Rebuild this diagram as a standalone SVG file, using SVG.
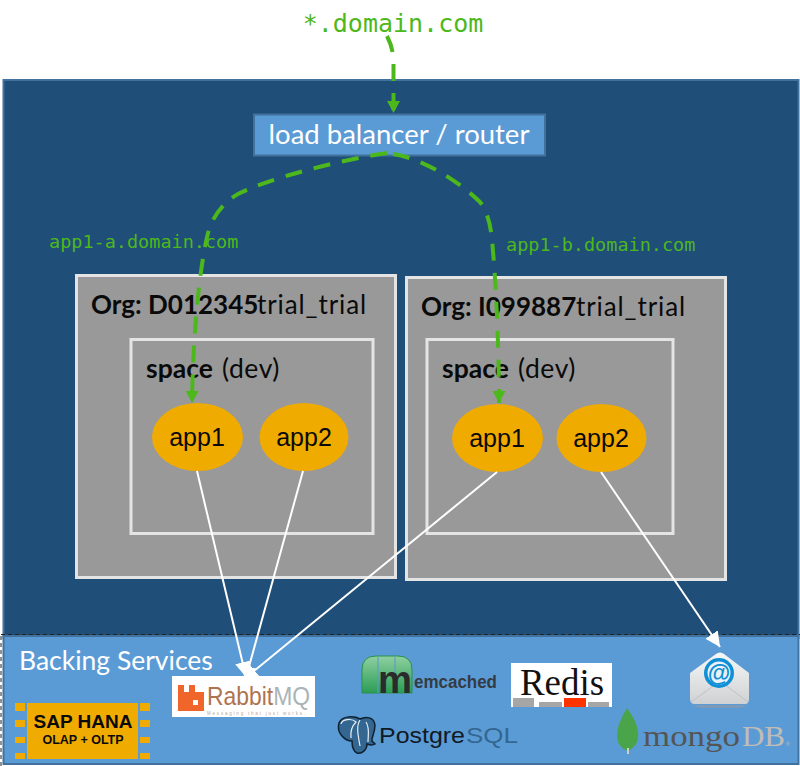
<svg xmlns="http://www.w3.org/2000/svg" width="800" height="766" viewBox="0 0 800 766">
<defs>
<style>
.cal{font-family:"Lato","Open Sans",sans-serif}
.mono{font-family:"DejaVu Sans Mono","Liberation Mono",monospace;fill:#4db81c}
.ar{font-family:"Liberation Sans",Arial,sans-serif}
.ser{font-family:"Liberation Serif","Times New Roman",serif}
.org{fill:#999;stroke:#e4e4e4;stroke-width:3}
.app{fill:#f0ab00}
.apptxt{font-family:"Liberation Sans",Arial,sans-serif;font-size:25px;fill:#0a0a0a;text-anchor:middle}
.green{fill:none;stroke:#4db81c;stroke-width:4;stroke-dasharray:17 12}
.white{fill:none;stroke:#fff;stroke-width:2}
.pin{fill:#f0ab00}
</style>
<marker id="ga" markerUnits="userSpaceOnUse" markerWidth="14" markerHeight="14" refX="12" refY="6.500" orient="auto"><path d="M0 0L12 6.500L0 13z" fill="#4db81c"/></marker>
<marker id="wa" markerUnits="userSpaceOnUse" markerWidth="18" markerHeight="16" refX="15" refY="7.500" orient="auto"><path d="M0 0L15 7.500L0 15z" fill="#fff"/></marker>
<linearGradient id="mg" x1="0" y1="0" x2="0" y2="1"><stop offset="0" stop-color="#8fd0a0"/><stop offset="1" stop-color="#2a9d55"/></linearGradient>
<linearGradient id="eg" x1="0" y1="0" x2="0" y2="1"><stop offset="0" stop-color="#f7f7f7"/><stop offset="1" stop-color="#cfd1d3"/></linearGradient>
</defs>
<rect width="800" height="766" fill="#fff"/>
<rect id="cloud" x="3.500" y="80" width="795" height="558" fill="#1f4e79" stroke="#41719c" stroke-width="2"/>
<g id="backing">
<rect x="3.500" y="636" width="795" height="128" fill="#5b9bd5" stroke="#41719c" stroke-width="2"/>
<path d="M1 634.500H800M1 636V766" fill="none" stroke="#222" stroke-width="1" stroke-dasharray="4 3"/>
<text x="19" y="670" class="cal" font-size="26.500" fill="#fff">Backing Services</text>
</g>
<g id="router">
<rect x="254" y="114.500" width="291" height="41" fill="#5b9bd5" stroke="#41719c" stroke-width="2"/>
<text x="399" y="144" class="cal" font-size="27.500" fill="#fff" text-anchor="middle">load balancer / router</text>
</g>
<text id="wild" x="393" y="32" class="mono" font-size="25" text-anchor="middle">*.domain.com</text>
<text id="la" x="49" y="248" class="mono" font-size="18.500">app1-a.domain.com</text>
<text id="lb" x="506" y="251" class="mono" font-size="18.500">app1-b.domain.com</text>
<g id="org1">
<rect class="org" x="76.500" y="275.500" width="319" height="302"/>
<text x="91" y="314" class="cal" font-size="26" fill="#0a0a0a"><tspan font-weight="700">Org: D012345</tspan><tspan x="257" letter-spacing=".9">trial_trial</tspan></text>
</g>
<g id="space1">
<rect class="org" x="131" y="339.500" width="242" height="194"/>
<text x="146" y="378" class="cal" font-size="26.500" fill="#0a0a0a"><tspan font-weight="700">space</tspan><tspan x="222" letter-spacing=".6">(dev)</tspan></text>
</g>
<g id="org2">
<rect class="org" x="406.500" y="277.500" width="319" height="302"/>
<text x="421" y="316" class="cal" font-size="26" fill="#0a0a0a"><tspan font-weight="700">Org: I099887</tspan><tspan x="576" letter-spacing=".9">trial_trial</tspan></text>
</g>
<g id="space2">
<rect class="org" x="427" y="339.500" width="246" height="194"/>
<text x="442" y="378" class="cal" font-size="26.500" fill="#0a0a0a"><tspan font-weight="700">space</tspan><tspan x="518" letter-spacing=".6">(dev)</tspan></text>
</g>
<g id="o1a1"><ellipse class="app" cx="197.500" cy="437" rx="45.500" ry="34"/><text class="apptxt" x="197" y="446">app1</text></g>
<g id="o1a2"><ellipse class="app" cx="304" cy="437" rx="44.500" ry="34"/><text class="apptxt" x="304" y="446">app2</text></g>
<g id="o2a1"><ellipse class="app" cx="497.500" cy="438" rx="45.500" ry="34"/><text class="apptxt" x="497" y="447">app1</text></g>
<g id="o2a2"><ellipse class="app" cx="601.500" cy="438" rx="45" ry="34"/><text class="apptxt" x="601" y="447">app2</text></g>
<g id="connectors">
<path class="green" d="M387 36C392 46 393 52 393.500 62V113" marker-end="url(#ga)" stroke-dasharray="15 13"/>
<path class="green" d="M387 153C340 160 270 178 238 194C222 203 212 218 208 233C200 265 193 330 192 403" marker-end="url(#ga)"/>
<path class="green" d="M393 154C420 158 455 178 480 202C488 212 491 228 492 240C496 280 499 350 499 403" marker-end="url(#ga)"/>
<path class="white" d="M197 471L246 677" marker-end="url(#wa)"/>
<path class="white" d="M303 471L245 681" marker-end="url(#wa)"/>
<path class="white" d="M497 472L243 680" marker-end="url(#wa)"/>
<path class="white" d="M601 472L720 647" marker-end="url(#wa)"/>
</g>
<g id="sap">
<rect x="27" y="703" width="111" height="56" fill="#f0ab00"/>
<rect class="pin" x="15" y="703" width="10" height="8"/><rect class="pin" x="15" y="720" width="10" height="7"/><rect class="pin" x="15" y="737" width="10" height="6"/><rect class="pin" x="15" y="753" width="10" height="6"/>
<rect class="pin" x="140" y="703" width="10" height="8"/><rect class="pin" x="140" y="720" width="10" height="7"/><rect class="pin" x="140" y="737" width="10" height="6"/><rect class="pin" x="140" y="753" width="10" height="6"/>
<text x="83" y="728" class="ar" font-size="19" font-weight="700" fill="#0a0a0a" text-anchor="middle">SAP HANA</text>
<text x="83" y="744" class="ar" font-size="12.500" font-weight="700" fill="#0a0a0a" text-anchor="middle">OLAP + OLTP</text>
</g>
<g id="rabbit">
<rect x="172" y="676" width="143" height="41" fill="#fff"/>
<path d="M178 685H184V692H189V685H195V692H204V711H178z" fill="#f0662a"/><rect x="193" y="700" width="5" height="5" fill="#fff"/>
<text x="207" y="705" class="ar" font-size="26" fill="#b0734f" textLength="103" lengthAdjust="spacingAndGlyphs">Rabbit<tspan fill="#a9b4b8">MQ</tspan></text>
<text x="207" y="714.500" class="ar" font-size="4.500" fill="#b8a89c" textLength="98">Messaging that just works.</text>
</g>
<g id="memcached">
<path d="M362 693V670Q362 656 376 656H398Q412 656 412 670V693z" fill="url(#mg)" stroke="#2a8f4e" stroke-width="1"/>
<path d="M378 657V693M395 657V693" stroke="#5b9bd5" stroke-width="1.500" opacity=".7"/>
<text x="378" y="693" class="ar" font-size="38" font-weight="700" fill="#2b2b2b" textLength="34" lengthAdjust="spacingAndGlyphs">m</text>
<text x="414" y="688" class="ar" font-size="18" font-weight="700" fill="#343b44" textLength="83" lengthAdjust="spacingAndGlyphs">emcached</text>
</g>
<g id="redis">
<rect x="511" y="663" width="101" height="44" fill="#fff"/>
<text x="520" y="695" class="ser" font-size="38" fill="#111" textLength="84" lengthAdjust="spacingAndGlyphs">Redis</text>
<rect x="513" y="698" width="21" height="9" fill="#a6a6a6"/><rect x="539" y="702" width="23" height="5" fill="#a6a6a6"/><rect x="564" y="698" width="22" height="9" fill="#ff3300"/><rect x="588" y="702" width="21" height="5" fill="#a6a6a6"/>
</g>
<g id="postgres">
<path d="M339 723C342 715 355 716 360 719C366 716 374 717 375 725C375 733 371 738 372 741L375 744C372 746 370 745 367 744C367 750 362 754 357 753C353 751 352 746 352 741C345 741 336 733 339 723z" fill="#336791" stroke="#10202e" stroke-width="1.500"/>
<path d="M341 724C342 719 352 718 356 722C352 726 350 730 351 738M360 720C356 726 358 735 360 746M366 722C370 728 368 735 368 742" fill="none" stroke="#e6edf3" stroke-width="1.200"/>
<text x="379" y="743" class="ar" font-size="22" fill="#111a24" textLength="86" lengthAdjust="spacingAndGlyphs">Postgre</text>
<text x="466" y="743" class="ar" font-size="22" fill="#336791" textLength="52" lengthAdjust="spacingAndGlyphs">SQL</text>
</g>
<g id="mail">
<path d="M690 673L716 654Q720 651 724 654L749 673V699Q749 704 745 704H695Q690 704 690 699z" fill="url(#eg)"/>
<path d="M691 702L716 684H724L748 702" fill="none" stroke="#bfc3c7" stroke-width="1"/>
<path d="M692 705H748L740 708H700z" fill="#7d9ab8"/>
<circle cx="719" cy="673" r="15" fill="#0f8fd6"/><circle cx="719" cy="673" r="11.500" fill="#e8f2f8"/>
<text x="719" y="681" class="ar" font-size="23" font-weight="700" fill="#0f8fd6" text-anchor="middle">@</text>
</g>
<g id="mongo">
<path d="M627 708C636 720 639 730 638 738C637 745 632 749 628 751C622 749 617 744 617 736C617 727 621 718 627 708z" fill="#4aa54a"/>
<rect x="627" y="748" width="2" height="6" fill="#c9d2c4"/>
<text x="643" y="746" class="ser" font-size="30" fill="#555" textLength="97" lengthAdjust="spacingAndGlyphs">mongo</text>
<text x="742" y="746" class="ser" font-size="30" fill="#c0bcb6" textLength="43" lengthAdjust="spacingAndGlyphs">DB</text>
<text x="786" y="746" class="ar" font-size="5" fill="#c0bcb6">®</text>
</g>
</svg>
